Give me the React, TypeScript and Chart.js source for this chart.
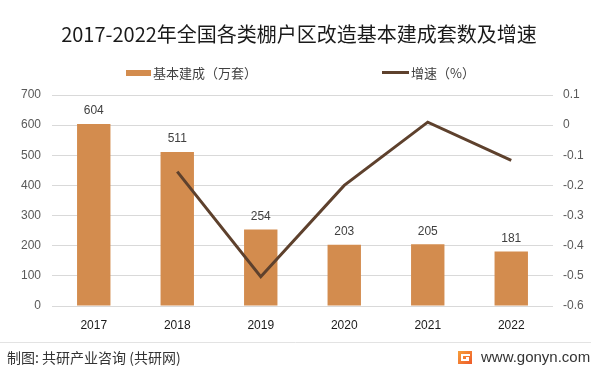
import React, { useEffect, useRef } from "react";
import { Chart, registerables } from "chart.js";

Chart.register(...registerables);

const categories = ["2017", "2018", "2019", "2020", "2021", "2022"];
const builtValues = [604, 511, 254, 203, 205, 181];
const growthValues: (number | null)[] = [null, -0.154, -0.503, -0.2, 0.01, -0.117];
const leftTicks = [0, 100, 200, 300, 400, 500, 600, 700];
const rightTicks = [-0.6, -0.5, -0.4, -0.3, -0.2, -0.1, 0, 0.1];

const TITLE = "2017-2022年全国各类棚户区改造基本建成套数及增速";
const BAR_LABEL = "基本建成（万套）";
const LINE_LABEL = "增速（%）";
const SOURCE = "制图: 共研产业咨询 (共研网)";
const SITE = "www.gonyn.com";

const BAR_COLOR = "#d38c4e";
const LINE_COLOR = "#5e412d";
const FONT = "'Liberation Sans', 'Noto Sans CJK SC', sans-serif";
const CJK = "'Noto Sans CJK SC', 'Liberation Sans', sans-serif";

const decorPlugin = {
  id: "decor",
  afterDatasetsDraw(chart: any) {
    const ctx = chart.ctx as CanvasRenderingContext2D;
    // bar value labels
    const meta = chart.getDatasetMeta(0);
    ctx.save();
    ctx.font = `12px ${FONT}`;
    ctx.fillStyle = "#404040";
    ctx.textAlign = "center";
    ctx.textBaseline = "middle";
    meta.data.forEach((el: any, i: number) => {
      ctx.fillText(String(builtValues[i]), el.x, el.y - 13);
    });
    ctx.restore();
  },
  afterDraw(chart: any) {
    const ctx = chart.ctx as CanvasRenderingContext2D;
    const w = chart.width;
    ctx.save();
    // title
    ctx.font = `20px ${CJK}`;
    ctx.fillStyle = "#1a1a1a";
    ctx.textAlign = "center";
    ctx.textBaseline = "middle";
    ctx.fillText(TITLE, w / 2, 34);
    // legend
    ctx.fillStyle = BAR_COLOR;
    ctx.fillRect(126, 70, 25, 6);
    ctx.font = `13px ${CJK}`;
    ctx.fillStyle = "#404040";
    ctx.textAlign = "left";
    ctx.fillText(BAR_LABEL, 153, 73);
    ctx.strokeStyle = LINE_COLOR;
    ctx.lineWidth = 3;
    ctx.beginPath();
    ctx.moveTo(382, 72.5);
    ctx.lineTo(409, 72.5);
    ctx.stroke();
    ctx.fillText(LINE_LABEL, 411, 73);
    // separator
    ctx.strokeStyle = "#e3e3e3";
    ctx.lineWidth = 1;
    ctx.beginPath();
    ctx.moveTo(0, 342.5);
    ctx.lineTo(591, 342.5);
    ctx.stroke();
    // footer
    ctx.font = `14px ${CJK}`;
    ctx.fillStyle = "#333333";
    ctx.fillText(SOURCE, 7, 358);
    // logo
    const g = ctx.createLinearGradient(458, 350, 472, 364);
    g.addColorStop(0, "#f7a23b");
    g.addColorStop(1, "#ee5a2a");
    ctx.fillStyle = g;
    ctx.fillRect(458, 351, 14, 13);
    ctx.fillStyle = "#ffffff";
    ctx.fillRect(461, 354, 9, 2);
    ctx.fillRect(461, 354, 2, 7);
    ctx.fillRect(461, 359, 8, 2);
    ctx.fillRect(466, 357, 3, 4);
    ctx.font = `15px ${FONT}`;
    ctx.fillStyle = "#333333";
    ctx.fillText(SITE, 481, 358);
    ctx.restore();
  },
};

export default function App() {
  const ref = useRef<HTMLCanvasElement>(null);
  useEffect(() => {
    if (!ref.current) return;
    const chart = new Chart(ref.current, {
      type: "bar",
      data: {
        labels: categories,
        datasets: [
          {
            type: "bar",
            label: BAR_LABEL,
            data: builtValues,
            backgroundColor: BAR_COLOR,
            barPercentage: 0.4,
            categoryPercentage: 1,
            yAxisID: "y",
            order: 1,
          },
          {
            type: "line",
            label: LINE_LABEL,
            data: growthValues,
            borderColor: LINE_COLOR,
            borderWidth: 3,
            pointRadius: 0,
            tension: 0,
            spanGaps: false,
            yAxisID: "y1",
            order: 0,
          } as any,
        ],
      },
      options: {
        animation: false,
        responsive: false,
        maintainAspectRatio: false,
        layout: { padding: { top: 95, left: 0, right: 0, bottom: 0 } },
        plugins: {
          legend: { display: false },
          title: { display: false },
          tooltip: { enabled: false },
        },
        scales: {
          x: {
            grid: { display: false, drawTicks: false },
            border: { display: false },
            ticks: { color: "#1a1a1a", font: { size: 12, family: FONT }, padding: 12 },
            afterFit: (s: any) => {
              s.height = 66;
            },
          },
          y: {
            position: "left",
            min: 0,
            max: 700,
            afterBuildTicks: (s: any) => {
              s.ticks = leftTicks.map((v) => ({ value: v }));
            },
            grid: { color: "#d9d9d9", drawTicks: false },
            border: { display: false },
            ticks: { color: "#595959", font: { size: 12, family: FONT }, padding: 11 },
            afterFit: (s: any) => {
              s.width = 52;
            },
          },
          y1: {
            position: "right",
            min: -0.6,
            max: 0.1,
            afterBuildTicks: (s: any) => {
              s.ticks = rightTicks.map((v) => ({ value: v }));
            },
            grid: { display: false, drawTicks: false },
            border: { display: false },
            ticks: {
              color: "#595959",
              font: { size: 12, family: FONT },
              padding: 10,
              callback: (v: any) => String(Math.round(Number(v) * 10) / 10),
            },
            afterFit: (s: any) => {
              s.width = 45;
            },
          },
        },
      },
      plugins: [decorPlugin],
    });
    return () => chart.destroy();
  }, []);
  return (
    <div style={{ position: "absolute", left: 0, top: 0, width: 598, height: 372, background: "#fff" }}>
      <canvas ref={ref} width={598} height={372} style={{ width: 598, height: 372 }} />
    </div>
  );
}
